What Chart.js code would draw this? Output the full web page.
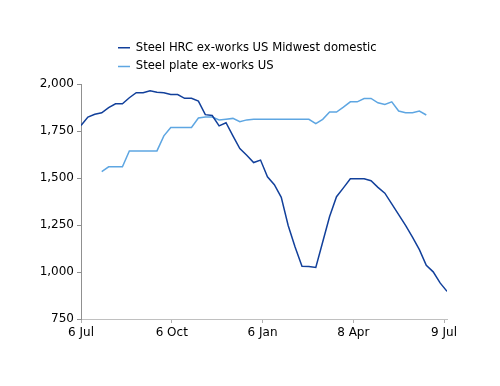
<!DOCTYPE html>
<html>
<head>
<meta charset="utf-8">
<script src="https://cdn.jsdelivr.net/npm/chart.js@4"></script>
<style>
  html, body { margin: 0; padding: 0; background: #fff; }
  #wrap { width: 500px; height: 386px; }
</style>
</head>
<body>
<div id="wrap"><canvas id="myChart" width="500" height="386"></canvas></div>
<script>
// days since 6 Jul, one point a week
const weekDays = [0, 7, 14, 21, 28, 35, 42, 49, 56, 63, 70, 77, 84, 91, 98, 105, 112, 119,
  126, 133, 140, 147, 154, 161, 168, 175, 182, 189, 196, 203, 210, 217, 224, 231, 238, 245,
  252, 259, 266, 273, 280, 287, 294, 301, 308, 315, 322, 329, 336, 343, 350, 357, 364, 371];

const hrcMidwest = [1780, 1825, 1840, 1848, 1875, 1896, 1896, 1928, 1955, 1955, 1965, 1957,
  1955, 1945, 1945, 1925, 1925, 1910, 1838, 1833, 1778, 1795, 1725, 1657, 1622, 1583, 1596,
  1507, 1465, 1398, 1248, 1133, 1031, 1029, 1024, 1160, 1296, 1401, 1448, 1497, 1497, 1497,
  1486, 1451, 1420, 1363, 1306, 1248, 1186, 1119, 1036, 1001, 942, 897];

const plateUS = [null, null, null, 1535, 1560, 1560, 1560, 1645, 1645, 1645, 1645, 1645,
  1725, 1770, 1770, 1770, 1770, 1820, 1825, 1825, 1810, 1814, 1818, 1800, 1810, 1813, 1813,
  1813, 1813, 1813, 1813, 1813, 1813, 1813, 1790, 1813, 1852, 1852, 1878, 1906, 1906, 1924,
  1924, 1901, 1892, 1906, 1857, 1848, 1848, 1857, 1836, null, null, null];

const seriesNames = ['Steel HRC ex-works US Midwest domestic', 'Steel plate ex-works US'];
const xTickDays = [0, 92, 184, 276, 368];
const xTickLabels = ['6 Jul', '6 Oct', '6 Jan', '8 Apr', '9 Jul'];

const darkBlue = '#12409b';
const lightBlue = '#5ea6e2';
const font = { family: 'DejaVu Sans', size: 12 };

const toPoints = arr => arr.map((v, i) => ({ x: weekDays[i], y: v }));

// legend: a bit more room below it, and rows start where the original ones do
const legendShift = {
  id: 'legendShift',
  beforeLayout(chart) {
    const lg = chart.legend;
    if (lg && !lg._patched) {
      const fit = lg.fit.bind(lg);
      lg.fit = function () { fit(); this.height += 2; };
      lg._patched = true;
    }
  },
  beforeDraw(chart) {
    chart.legend.left = 111;
  }
};

new Chart(document.getElementById('myChart'), {
  type: 'line',
  data: {
    datasets: [
      {
        label: seriesNames[0],
        data: toPoints(hrcMidwest),
        borderColor: darkBlue,
        backgroundColor: darkBlue,
        borderWidth: 1.5,
        pointRadius: 0,
        tension: 0
      },
      {
        label: seriesNames[1],
        data: toPoints(plateUS),
        borderColor: lightBlue,
        backgroundColor: lightBlue,
        borderWidth: 1.5,
        pointRadius: 0,
        tension: 0
      }
    ]
  },
  options: {
    responsive: false,
    animation: false,
    layout: { padding: { top: 35, right: 53, bottom: 0, left: 0 } },
    plugins: {
      tooltip: { enabled: false },
      legend: {
        position: 'top',
        align: 'start',
        fullSize: false,
        labels: {
          font: { family: 'DejaVu Sans', size: 11.6 },
          color: '#000',
          boxWidth: 12,
          boxHeight: 0,
          padding: 7,
          generateLabels(chart) {
            return chart.data.datasets.map((ds, i) => ({
              text: ds.label,
              fillStyle: ds.borderColor,
              strokeStyle: ds.borderColor,
              lineWidth: 1.5,
              fontColor: '#000',
              hidden: false,
              datasetIndex: i
            }));
          }
        }
      }
    },
    scales: {
      x: {
        type: 'linear',
        min: 0,
        max: 371,
        afterFit(scale) { scale.height = 67; },
        afterBuildTicks(scale) {
          scale.ticks = xTickDays.map(v => ({ value: v }));
        },
        grid: { display: true, drawOnChartArea: false, drawTicks: true, tickLength: 4, color: '#b0b0b0' },
        border: { display: true, color: '#c0c0c0', width: 1 },
        ticks: {
          font: font,
          color: '#000',
          padding: 3,
          maxRotation: 0,
          autoSkip: false,
          callback: v => xTickLabels[xTickDays.indexOf(v)]
        }
      },
      y: {
        min: 750,
        max: 2000,
        afterFit(scale) { scale.width = 81; },
        grid: { display: true, drawOnChartArea: false, drawTicks: true, tickLength: 4, color: '#909090' },
        border: { display: true, color: '#909090', width: 1 },
        ticks: {
          font: font,
          color: '#000',
          padding: 3,
          stepSize: 250,
          callback: v => v.toLocaleString('en-US')
        }
      }
    }
  },
  plugins: [legendShift]
});
</script>
</body>
</html>
